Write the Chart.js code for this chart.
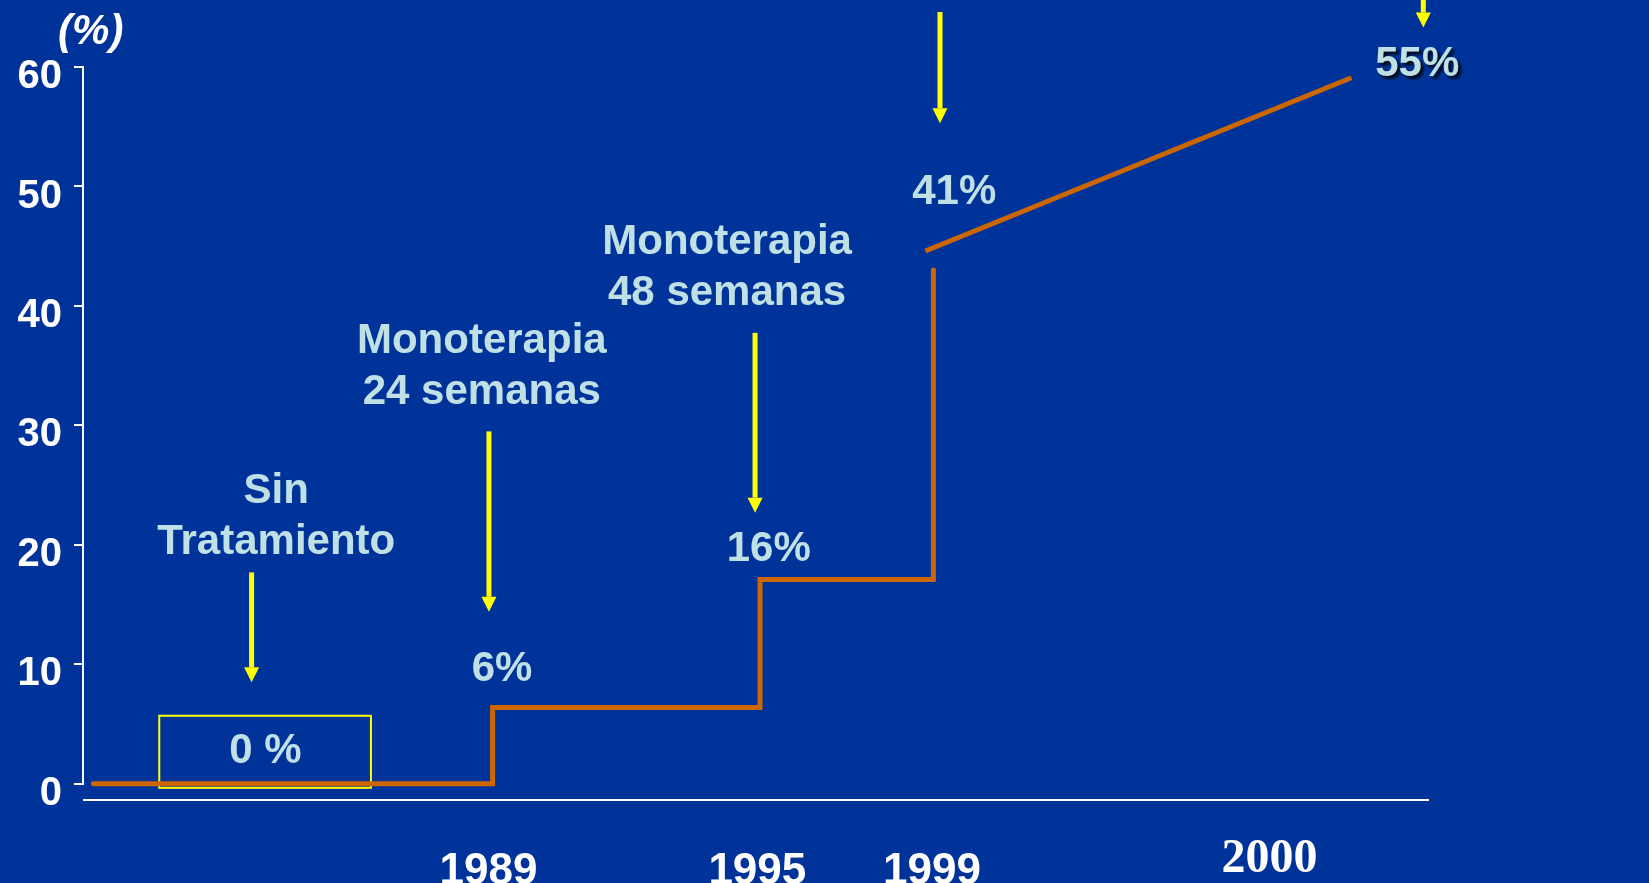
<!DOCTYPE html>
<html>
<head>
<meta charset="utf-8">
<title>Respuesta al tratamiento</title>
<script src="https://cdn.jsdelivr.net/npm/chart.js@4.4.1/dist/chart.umd.min.js"></script>
<style>
  html, body { margin: 0; padding: 0; background: #003399; overflow: hidden; }
</style>
</head>
<body>
<canvas id="grafica" width="1649" height="883"></canvas>
<script>
// eje X: posicion en la linea de tiempo (0 = eje Y, 100 = fin del eje X)
const escalonX = [0.7, 30.4, 50.3, 63.2];
const escalonY = [0, 6.4, 17.1, 43.0];
const tendenciaX = [62.6, 94.3];
const tendenciaY = [44.6, 59.1];

const ticksY = [0, 10, 20, 30, 40, 50, 60];
const ticksXPos = [30.1, 50.1, 63.1, 88.2];
const ticksXEtiquetas = ["1989", "1995", "1999", "2000"];

// textos: posicion en unidades de los ejes (y = centro de la primera linea)
const textos = [
  { lineas: ["(%)"], x: 0.5, y: 62.9, blanco: true, cursiva: true },
  { lineas: ["Sin", "Tratamiento"], x: 14.3, y: 24.45 },
  { lineas: ["0 %"], x: 13.5, y: 2.7 },
  { lineas: ["Monoterapia", "24 semanas"], x: 29.6, y: 37.0 },
  { lineas: ["6%"], x: 31.1, y: 9.6 },
  { lineas: ["Monoterapia", "48 semanas"], x: 47.85, y: 45.35 },
  { lineas: ["16%"], x: 50.95, y: 19.6 },
  { lineas: ["41%"], x: 64.75, y: 49.5 },
  { lineas: ["55%"], x: 99.2, y: 60.2, sombra: true }
];

// flechas amarillas: x, inicio y punta
const flechas = [
  { x: 12.47, desde: 17.7, hasta: 8.5 },
  { x: 30.13, desde: 29.5, hasta: 14.4 },
  { x: 49.93, desde: 37.75, hasta: 22.7 },
  { x: 63.69, desde: 64.6, hasta: 55.3 },
  { x: 99.65, desde: 67.5, hasta: 63.3 }
];

const recuadro = { x1: 5.6, x2: 21.35, y1: -0.33, y2: 5.7 };

const fuente = "'Liberation Sans', Arial, Helvetica, sans-serif";
const colorTexto = "#bfe1e6";

const anotaciones = {
  id: "anotaciones",
  beforeDraw(chart) {
    const c = chart.ctx;
    c.save();
    c.fillStyle = "#003399";
    c.fillRect(0, 0, chart.width, chart.height);
    c.restore();
  },
  beforeDatasetsDraw(chart) {
    const c = chart.ctx;
    const { x, y } = chart.scales;
    c.save();
    c.strokeStyle = "#ffff00";
    c.lineWidth = 2;
    const x1 = x.getPixelForValue(recuadro.x1);
    const x2 = x.getPixelForValue(recuadro.x2);
    const y1 = y.getPixelForValue(recuadro.y2);
    const y2 = y.getPixelForValue(recuadro.y1);
    c.strokeRect(x1, y1, x2 - x1, y2 - y1);
    c.restore();
  },
  afterDraw(chart) {
    const c = chart.ctx;
    const { x, y } = chart.scales;
    const area = chart.chartArea;

    // linea del eje Y (de 0 a 60)
    c.save();
    c.strokeStyle = "#ffffff";
    c.lineWidth = 2;
    c.beginPath();
    c.moveTo(area.left - 1, y.getPixelForValue(ticksY[0]));
    c.lineTo(area.left - 1, y.getPixelForValue(ticksY[ticksY.length - 1]));
    c.stroke();
    c.restore();

    // flechas
    c.save();
    c.fillStyle = "#ffff00";
    flechas.forEach(f => {
      const px = x.getPixelForValue(f.x);
      const top = y.getPixelForValue(f.desde);
      const tip = y.getPixelForValue(f.hasta);
      c.fillRect(px - 2.5, top, 5, tip - 15 - top);
      c.beginPath();
      c.moveTo(px - 7.5, tip - 15);
      c.lineTo(px + 7.5, tip - 15);
      c.lineTo(px, tip);
      c.closePath();
      c.fill();
    });
    c.restore();

    // textos
    textos.forEach(t => {
      c.save();
      c.font = (t.cursiva ? "italic " : "") + "bold 42px " + fuente;
      c.fillStyle = t.blanco ? "#ffffff" : colorTexto;
      c.textAlign = "center";
      c.textBaseline = "middle";
      if (t.sombra) {
        c.shadowColor = "rgba(0,0,0,0.85)";
        c.shadowOffsetX = 3;
        c.shadowOffsetY = 3;
        c.shadowBlur = 3;
      }
      const px = x.getPixelForValue(t.x);
      const py = y.getPixelForValue(t.y);
      t.lineas.forEach((l, i) => c.fillText(l, px, py + i * 51));
      c.restore();
    });
  }
};

const ctx = document.getElementById("grafica").getContext("2d");
new Chart(ctx, {
  type: "scatter",
  data: {
    datasets: [
      {
        data: escalonX.map((v, i) => ({ x: v, y: escalonY[i] })),
        showLine: true,
        stepped: "before",
        borderColor: "#cc6600",
        borderWidth: 5,
        borderCapStyle: "round",
        borderJoinStyle: "miter",
        pointRadius: 0
      },
      {
        data: tendenciaX.map((v, i) => ({ x: v, y: tendenciaY[i] })),
        showLine: true,
        borderColor: "#cc6600",
        borderWidth: 5,
        borderCapStyle: "butt",
        pointRadius: 0
      }
    ]
  },
  options: {
    responsive: false,
    animation: false,
    layout: { padding: { top: 67, right: 221, bottom: 0, left: 0 } },
    plugins: {
      legend: { display: false },
      tooltip: { enabled: false }
    },
    scales: {
      x: {
        type: "linear",
        min: 0,
        max: 100,
        afterBuildTicks: s => { s.ticks = ticksXPos.map(v => ({ value: v })); },
        afterFit: s => { s.height = 83; },
        grid: { display: true, drawOnChartArea: false, drawTicks: false },
        border: { display: true, color: "#ffffff", width: 2 },
        ticks: {
          color: "#ffffff",
          padding: 10,
          autoSkip: false,
          maxRotation: 0,
          minRotation: 0,
          callback: (v, i) => ticksXEtiquetas[i],
          font: c => ticksXEtiquetas[c.index] === "2000"
            ? { family: "'Liberation Serif', 'Times New Roman', serif", size: 48, weight: "bold", lineHeight: 2.06 }
            : { family: fuente, size: 44, weight: "bold", lineHeight: 2.82 }
        }
      },
      y: {
        type: "linear",
        min: -1.35,
        max: 60,
        afterBuildTicks: s => { s.ticks = ticksY.map(v => ({ value: v })); },
        afterFit: s => { s.width = 84; },
        grid: { drawOnChartArea: false, drawTicks: true, tickLength: 10, color: "#ffffff", lineWidth: 2 },
        border: { display: false },
        ticks: {
          color: "#ffffff",
          padding: 12,
          labelOffset: 10,
          font: { family: fuente, size: 40, weight: "bold" }
        }
      }
    }
  },
  plugins: [anotaciones]
});
</script>
</body>
</html>
